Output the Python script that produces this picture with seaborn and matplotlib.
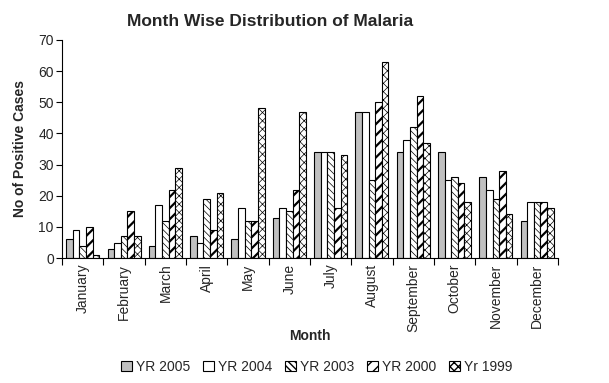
import matplotlib
matplotlib.use("Agg")
import matplotlib.pyplot as plt
import seaborn as sns
import pandas as pd
import numpy as np
from matplotlib.patches import Patch

months = ["January", "February", "March", "April", "May", "June", "July",
          "August", "September", "October", "November", "December"]
series_names = ["YR 2005", "YR 2004", "YR 2003", "YR 2000", "Yr 1999"]
yr2005 = [6, 3, 4, 7, 6, 13, 34, 47, 34, 34, 26, 12]
yr2004 = [9, 5, 17, 5, 16, 16, 34, 47, 38, 25, 22, 18]
yr2003 = [4, 7, 12, 19, 12, 15, 34, 25, 42, 26, 19, 18]
yr2000 = [10, 15, 22, 9, 12, 22, 16, 50, 52, 24, 28, 18]
yr1999 = [1, 7, 29, 21, 48, 47, 33, 63, 37, 18, 14, 16]
y_ticks = [0, 10, 20, 30, 40, 50, 60, 70]

sns.set_theme(style="white")
plt.rcParams['font.family'] = ['Liberation Sans', 'DejaVu Sans']

rows = []
for name, vals in zip(series_names, [yr2005, yr2004, yr2003, yr2000, yr1999]):
    for m, v in zip(months, vals):
        rows.append({"Month": m, "Cases": v, "Year": name})
df = pd.DataFrame(rows)

colors = ["#C0C0C0", "white", "white", "white", "white"]
hatches = [None, None, "\\\\\\\\\\", "///", "xxxx"]
hlw = [0.8, 0.8, 0.5, 1.6, 0.5]

fig = plt.figure(figsize=(6.09, 3.83), dpi=100)
ax = fig.add_axes([0.102, 0.326, 0.814, 0.570])

sns.barplot(data=df, x="Month", y="Cases", hue="Year", order=months,
            hue_order=series_names, palette=colors, edgecolor="black",
            linewidth=0.8, width=0.8, saturation=1, ax=ax, legend=False)

for cont, h, lw in zip(ax.containers, hatches, hlw):
    for p in cont:
        if h:
            p.set_hatch(h)
            try:
                p.set_hatch_linewidth(lw)
            except Exception:
                pass

ax.set_ylim(0, 70)
ax.set_yticks(y_ticks)
ax.set_yticklabels([str(t) for t in y_ticks], fontsize=10)
ax.set_xlim(-0.5, len(months) - 0.5)
ax.set_xticks(range(len(months)))
ax.set_xticklabels(months, rotation=90, fontsize=10)
ax.set_xticks(np.arange(-0.5, len(months), 1.0), minor=True)
ax.tick_params(axis="x", which="major", length=0, pad=4)
ax.tick_params(axis="x", which="minor", length=5, width=0.8, color="black", direction="out", bottom=True)
ax.tick_params(axis="y", length=4, width=0.8, color="black", direction="out", left=True, pad=2)

for s in ["top", "right"]:
    ax.spines[s].set_visible(False)
for s in ["left", "bottom"]:
    ax.spines[s].set_color("black")
    ax.spines[s].set_linewidth(0.8)

ax.set_xlabel("")
fig.text(0.509, 0.123, "Month", ha="center", va="center", fontsize=10, fontweight="bold")
ax.set_ylabel("No of Positive Cases", fontsize=10, fontweight="bold", labelpad=8)
fig.text(0.443, 0.945, "Month Wise Distribution of Malaria", ha="center", va="center",
         fontsize=12.5, fontweight="bold")

handles = []
for c, h, lw in zip(colors, hatches, hlw):
    p = Patch(facecolor=c, edgecolor="black", hatch=h, linewidth=0.8)
    try:
        p.set_hatch_linewidth(lw)
    except Exception:
        pass
    handles.append(p)
leg = fig.legend(handles, series_names, loc="center", bbox_to_anchor=(0.52, 0.042),
                 ncol=5, frameon=False, fontsize=10, handlelength=0.8, handleheight=0.8,
                 handletextpad=0.3, columnspacing=0.9)

fig.savefig("out.png", dpi=100)
